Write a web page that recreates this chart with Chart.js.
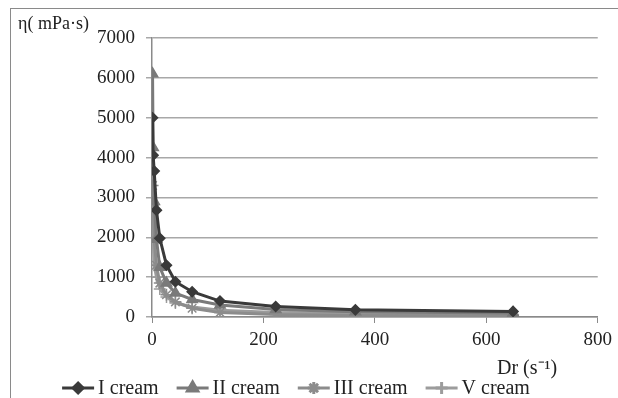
<!DOCTYPE html>
<html lang="en">
<head>
<meta charset="UTF-8">
<title>Viscosity vs shear rate</title>
<script src="https://cdn.jsdelivr.net/npm/chart.js"></script>
<style>
    html, body { margin: 0; padding: 0; background: #fff; overflow: hidden; }
    .wrap { position: relative; width: 618px; height: 398px; }
    .frame {
        position: absolute; left: 10px; top: 8px; right: 0; bottom: 0;
        border-left: 1px solid #8a8a8a; border-top: 1px solid #8a8a8a;
        pointer-events: none;
    }
    canvas { position: absolute; left: 0; top: 0; }
</style>
</head>
<body>
<div class="wrap">
    <canvas id="chart" width="618" height="398"></canvas>
    <div class="frame"></div>
</div>
<script>
    // shear rate Dr (s-1) and viscosity (mPa·s)
    const shearRate = [1, 2, 4, 8, 14, 26, 42, 72, 122, 222, 365, 648];
    const cream1 = [5000, 4060, 3660, 2680, 1975, 1300, 885, 635, 400, 265, 180, 140];
    const cream2 = [6100, 4250, 2900, 1950, 1250, 850, 600, 440, 300, 190, 130, 100];
    const cream3 = [3300, 2800, 1950, 1300, 850, 560, 380, 220, 110, 60, 40, 30];
    const cream5 = [2650, 1950, 1300, 1000, 700, 500, 350, 250, 170, 110, 80, 60];
    const seriesNames = ['I cream', 'II cream', 'III cream', 'V cream'];
    const xTicks = [0, 200, 400, 600, 800];
    const yTicks = [0, 1000, 2000, 3000, 4000, 5000, 6000, 7000];

    const serif = "'Liberation Serif', 'Times New Roman', serif";

    function pts(ys) {
        return ys.map((y, i) => ({ x: shearRate[i], y: y }));
    }

    function series(label, ys, color, style, radius) {
        return {
            label: label,
            data: pts(ys),
            showLine: true,
            borderColor: color,
            backgroundColor: color,
            borderWidth: 3,
            pointStyle: style,
            pointRadius: radius,
            pointBorderWidth: 1.5,
            pointBorderColor: color,
            pointBackgroundColor: color
        };
    }

    const datasets = [
        series(seriesNames[0], cream1, '#3a3a3a', 'rectRot', 5),
        series(seriesNames[1], cream2, '#7a7a7a', 'triangle', 6),
        series(seriesNames[2], cream3, '#8c8c8c', 'star', 6),
        series(seriesNames[3], cream5, '#9c9c9c', 'cross', 6)
    ];

    // titles and legend drawn by hand to sit where the original has them
    const extras = {
        id: 'extras',
        afterDraw(chart) {
            const ctx = chart.ctx;
            ctx.save();
            ctx.fillStyle = '#222';
            ctx.font = '18px ' + serif;
            ctx.textBaseline = 'alphabetic';
            ctx.textAlign = 'left';
            ctx.fillText('η( mPa·s)', 18, 29);
            ctx.font = '20px ' + serif;
            ctx.fillText('Dr (s⁻¹)', 497, 374);

            // legend
            ctx.font = '20px ' + serif;
            const lineLen = 32, gapText = 4, gapItem = 18;
            let widths = datasets.map(d => ctx.measureText(d.label).width);
            let total = widths.reduce((a, w) => a + lineLen + gapText + w, 0) + gapItem * (datasets.length - 1);
            let x = 296 - total / 2;
            const y = 388;
            datasets.forEach((d, i) => {
                ctx.strokeStyle = d.borderColor;
                ctx.fillStyle = d.backgroundColor;
                ctx.lineWidth = 3;
                ctx.beginPath();
                ctx.moveTo(x, y);
                ctx.lineTo(x + lineLen, y);
                ctx.stroke();
                Chart.helpers.drawPoint(ctx, {
                    pointStyle: d.pointStyle,
                    radius: d.pointRadius,
                    borderWidth: d.pointBorderWidth,
                    rotation: 0
                }, x + lineLen / 2, y);
                ctx.fillStyle = '#222';
                ctx.textBaseline = 'middle';
                ctx.fillText(d.label, x + lineLen + gapText, y + 1);
                x += lineLen + gapText + widths[i] + gapItem;
            });
            ctx.restore();
        }
    };

    new Chart(document.getElementById('chart'), {
        type: 'scatter',
        data: { datasets: datasets },
        options: {
            responsive: false,
            devicePixelRatio: 1,
            animation: false,
            layout: { padding: { top: 38, right: 20, left: 0, bottom: 0 } },
            plugins: { legend: { display: false }, tooltip: { enabled: false } },
            scales: {
                x: {
                    type: 'linear',
                    min: 0, max: 800,
                    afterBuildTicks(scale) { scale.ticks = xTicks.map(v => ({ value: v })); },
                    afterFit(scale) { scale.height = 81; },
                    grid: { drawOnChartArea: false, drawTicks: true, tickLength: 6, color: '#8a8a8a' },
                    border: { color: '#8a8a8a', width: 1.5 },
                    ticks: {
                        color: '#222', font: { family: serif, size: 19 }, padding: 6, maxRotation: 0,
                        callback: v => String(v)
                    }
                },
                y: {
                    min: 0, max: 7000,
                    afterBuildTicks(scale) { scale.ticks = yTicks.map(v => ({ value: v })); },
                    afterFit(scale) { scale.width = 152; },
                    grid: { color: '#a8a8a8', lineWidth: 1.5, drawTicks: true, tickLength: 6 },
                    border: { color: '#8a8a8a', width: 1.5 },
                    ticks: {
                        color: '#222', font: { family: serif, size: 19 }, padding: 11,
                        callback: v => String(v)
                    }
                }
            }
        },
        plugins: [extras]
    });
</script>
</body>
</html>
